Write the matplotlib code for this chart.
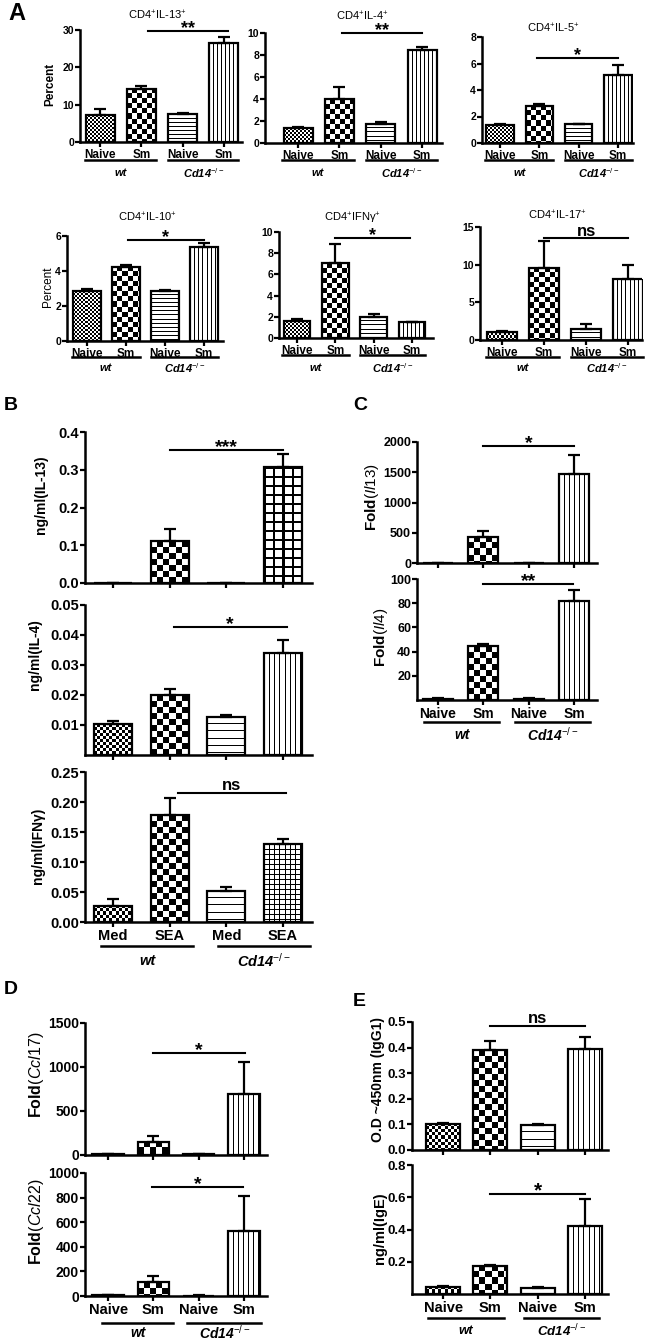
import numpy as np
import matplotlib
matplotlib.use('Agg')
import matplotlib.pyplot as plt
from matplotlib.transforms import blended_transform_factory

# ---------------- data ----------------
groups_A = ['Naive', 'Sm', 'Naive', 'Sm']
groups_B = ['Med', 'SEA', 'Med', 'SEA']
strains = ['wt', r'Cd14$^{-/-}$']

a_il13 = [7.2, 14.2, 7.4, 26.6]
a_il13_err = [1.6, 0.8, 0.5, 1.6]
a_il4 = [1.35, 4.0, 1.75, 8.45]
a_il4_err = [0.15, 1.1, 0.12, 0.3]
a_il5 = [1.35, 2.8, 1.4, 5.15]
a_il5_err = [0.1, 0.12, 0.04, 0.7]
a_il10 = [2.85, 4.25, 2.87, 5.35]
a_il10_err = [0.1, 0.08, 0.07, 0.25]
a_ifng = [1.6, 7.05, 2.0, 1.5]
a_ifng_err = [0.2, 1.8, 0.3, 0.05]
a_il17 = [1.1, 9.6, 1.5, 8.1]
a_il17_err = [0.05, 3.5, 0.6, 1.8]

b_il13 = [0.0, 0.111, 0.0, 0.307]
b_il13_err = [0.0, 0.033, 0.0, 0.034]
b_il4 = [0.0103, 0.0200, 0.0127, 0.0340]
b_il4_err = [0.0010, 0.0020, 0.0007, 0.0043]
b_ifng = [0.027, 0.178, 0.052, 0.130]
b_ifng_err = [0.011, 0.028, 0.007, 0.009]

c_il13 = [5, 430, 5, 1470]
c_il13_err = [0, 95, 0, 310]
c_il4 = [1.0, 44.5, 1.0, 82.0]
c_il4_err = [0.3, 2.0, 0.3, 9.0]

d_ccl17 = [8, 150, 6, 695]
d_ccl17_err = [2, 65, 2, 365]
d_ccl22 = [5, 110, 4, 530]
d_ccl22_err = [1, 52, 1, 280]

e_igg1 = [0.103, 0.390, 0.099, 0.396]
e_igg1_err = [0.002, 0.035, 0.002, 0.045]
e_ige = [0.045, 0.176, 0.040, 0.422]
e_ige_err = [0.003, 0.005, 0.003, 0.165]

# significance annotations: (x_start, x_end, y, label)
sig_a = {'il13': (1.15, 3.1, 29.6, '**'), 'il4': (1.05, 3.0, 10.0, '**'),
         'il5': (0.95, 3.0, 6.4, '*'), 'il10': (1.05, 3.0, 5.77, '*'),
         'ifng': (1.0, 2.95, 9.43, '*'), 'il17': (1.0, 3.0, 13.5, 'ns')}
sig_b = {'il13': (1.0, 3.0, 0.352, '***'), 'il4': (1.07, 3.07, 0.0427, '*'),
         'ifng': (1.15, 3.05, 0.215, 'ns')}
sig_c = {'il13': (1.0, 3.0, 1934, '*'), 'il4': (1.0, 2.98, 96, '**')}
sig_d = {'ccl17': (1.0, 3.02, 1159, '*'), 'ccl22': (0.98, 2.98, 886, '*')}
sig_e = {'igg1': (1.0, 3.0, 0.484, 'ns'), 'ige': (1.0, 3.0, 0.62, '*')}

# ---------------- style ----------------
plt.rcParams['font.family'] = ['Liberation Sans', 'DejaVu Sans']
plt.rcParams['mathtext.fontset'] = 'custom'
plt.rcParams['mathtext.rm'] = 'Liberation Sans'
plt.rcParams['mathtext.it'] = 'Liberation Sans:italic'
plt.rcParams['mathtext.bf'] = 'Liberation Sans:bold'

W, H = 650, 1340
fig = plt.figure(figsize=(W / 100, H / 100), dpi=100)
LW = 1.6


def add_ax(l, t, r, b):
    return fig.add_axes([l / W, 1 - b / H, (r - l) / W, (b - t) / H])


def ftext(x, y, s, **kw):
    fig.text(x / W, 1 - y / H, s, **kw)


def texture(ax, bar, spec):
    if spec is None:
        return
    kind, s, t = spec
    bb = bar.get_window_extent()
    w = int(round(bb.width)); h = int(round(bb.height))
    if w < 2 or h < 2:
        return
    i = np.arange(h)[:, None]
    j = np.arange(w)[None, :]
    if kind == 'check':
        a = ((i // s + j // s) % 2).astype(float)
    elif kind == 'h':
        a = np.broadcast_to((i % s) < t, (h, w)).astype(float)
    elif kind == 'v':
        a = np.broadcast_to((j % s) < t, (h, w)).astype(float)
    elif kind == 'grid':
        a = (((i % s) < t) | ((j % s) < t)).astype(float)
    x0 = bar.get_x(); x1 = x0 + bar.get_width(); y1 = bar.get_height()
    im = ax.imshow(a, extent=(x0, x1, 0, y1), origin='upper', cmap='gray_r',
                   vmin=0, vmax=1, interpolation='nearest', aspect='auto', zorder=2)
    im.set_clip_path(bar)


def panel(box, vals, errs, ylim, yticks, ylabels_txt, styles, xlim, width,
          tick_fs, xlabels=None, xlabel_fs=9, pad=1.5):
    ax = add_ax(*box)
    x = np.arange(len(vals))
    ax.set_xlim(*xlim)
    ax.set_ylim(*ylim)
    bars = ax.bar(x, vals, width=width, facecolor='none', edgecolor='black',
                  linewidth=LW, zorder=3)
    for bar, spec in zip(bars, styles):
        texture(ax, bar, spec)
    ax.errorbar(x, vals, yerr=[np.zeros(len(vals)), errs], fmt='none', ecolor='black',
                elinewidth=LW, capsize=4, capthick=LW, zorder=4)
    ax.set_xlim(*xlim)
    ax.set_ylim(*ylim)
    for sp in ['top', 'right']:
        ax.spines[sp].set_visible(False)
    for sp in ['left', 'bottom']:
        ax.spines[sp].set_linewidth(LW + 0.2)
    ax.set_yticks(yticks)
    ax.set_yticklabels(ylabels_txt, fontsize=tick_fs, fontweight='bold')
    ax.set_xticks(x)
    if xlabels is not None:
        ax.set_xticklabels(xlabels, fontsize=xlabel_fs, fontweight='bold')
    else:
        ax.set_xticklabels([])
    ax.tick_params(direction='out', length=3.5, width=LW, pad=pad)
    ax.tick_params(axis='y', pad=pad * 0.5)
    ax.patch.set_visible(False)
    return ax


def sig(ax, spec, fs, off=-1.5):
    x0, x1, y, lab = spec
    ax.plot([x0, x1], [y, y], color='black', lw=1.5, clip_on=False, zorder=5)
    if lab == 'ns':
        ax.annotate(lab, xy=((x0 + x1) / 2, y), xytext=(0, 2), textcoords='offset points',
                    ha='center', va='baseline', fontsize=fs, fontweight='bold',
                    annotation_clip=False)
    else:
        ax.annotate(lab, xy=((x0 + x1) / 2, y), xytext=(0, off), textcoords='offset points',
                    ha='center', va='baseline', fontsize=fs + 3, fontweight='bold',
                    annotation_clip=False)


def group_labels(ax, y_line, y_text, fs, spans=((-0.38, 1.35), (1.65, 3.35))):
    tr = blended_transform_factory(ax.transData, fig.transFigure)
    for (a, b), lab in zip(spans, strains):
        ax.plot([a, b], [1 - y_line / H] * 2, color='black', lw=1.8, transform=tr,
                clip_on=False)
        ax.text((a + b) / 2, 1 - y_text / H, lab, transform=tr, ha='center', va='center',
                fontsize=fs, fontstyle='italic', fontweight='bold')


def ylab(x, y, s, fs, weight='bold'):
    ftext(x, y, s, rotation=90, ha='center', va='center', fontsize=fs, fontweight=weight)


# styles: (kind, size, thickness)
FINE = ('check', 2, 1)
STY_A = [FINE, ('check', 5, 1), ('h', 4, 1), ('v', 4, 1)]
STY_B1 = [None, ('check', 6, 1), None, ('grid', 9, 2)]
STY_B2 = [('check', 3, 1), ('check', 6, 1), ('h', 7, 1), ('v', 5, 1)]
STY_B3 = [('check', 3, 1), ('check', 6, 1), ('h', 7, 1), ('grid', 5, 1)]
STY_C = [FINE, ('check', 6, 1), ('h', 5, 1), ('v', 5, 1)]
STY_E = [('check', 3, 1), ('check', 6, 1), ('h', 7, 1), ('v', 5, 1)]

# ---------------- Panel A ----------------
ftext(8, 14, 'A', fontsize=17, fontweight='bold', va='center')
tfs, xfs, gfs, titfs, sfs = 7.5, 8.5, 8, 8, 10

ax = panel((80, 30, 242, 142), a_il13, a_il13_err, (0, 30), [0, 10, 20, 30],
           ['0', '10', '20', '30'], STY_A, (-0.49, 3.44), 0.7, tfs, groups_A, xfs)
sig(ax, sig_a['il13'], sfs)
group_labels(ax, 159.5, 173, gfs)
ftext(157, 15, r'CD4$^{+}$IL-13$^{+}$', fontsize=titfs, ha='center', va='center')
ylab(50, 84, 'Percent', 8.5)

ax = panel((265, 33, 442, 143), a_il4, a_il4_err, (0, 10), [0, 2, 4, 6, 8, 10],
           ['0', '2', '4', '6', '8', '10'], STY_A, (-0.8, 3.48), 0.7, tfs, groups_A, xfs)
sig(ax, sig_a['il4'], sfs)
group_labels(ax, 160, 173, gfs)
ftext(362, 16, r'CD4$^{+}$IL-4$^{+}$', fontsize=titfs, ha='center', va='center')

ax = panel((482, 37, 633, 143), a_il5, a_il5_err, (0, 8), [0, 2, 4, 6, 8],
           ['0', '2', '4', '6', '8'], STY_A, (-0.46, 3.38), 0.7, tfs, groups_A, xfs)
sig(ax, sig_a['il5'], sfs)
group_labels(ax, 160, 173, gfs)
ftext(553, 28, r'CD4$^{+}$IL-5$^{+}$', fontsize=titfs, ha='center', va='center')

ax = panel((67, 236, 223, 341), a_il10, a_il10_err, (0, 6), [0, 2, 4, 6],
           ['0', '2', '4', '6'], STY_A, (-0.51, 3.49), 0.7, tfs, groups_A, xfs)
sig(ax, sig_a['il10'], sfs)
group_labels(ax, 357, 368, gfs)
ftext(147, 217, r'CD4$^{+}$IL-10$^{+}$', fontsize=titfs, ha='center', va='center')
ylab(48, 287, 'Percent', 8.5, weight='normal')

ax = panel((279, 232, 433, 338), a_ifng, a_ifng_err, (0, 10), [0, 2, 4, 6, 8, 10],
           ['0', '2', '4', '6', '8', '10'], STY_A, (-0.47, 3.55), 0.7, tfs, groups_A, xfs)
sig(ax, sig_a['ifng'], sfs)
group_labels(ax, 355, 368, gfs)
ftext(352, 218, r'CD4$^{+}$IFNγ$^{+}$', fontsize=titfs, ha='center', va='center')

ax = panel((480, 227, 642, 340), a_il17, a_il17_err, (0, 15), [0, 5, 10, 15],
           ['0', '5', '10', '15'], STY_A, (-0.52, 3.33), 0.7, tfs, groups_A, xfs)
sig(ax, sig_a['il17'], 12)
group_labels(ax, 357, 368, gfs)
ftext(557, 215, r'CD4$^{+}$IL-17$^{+}$', fontsize=titfs, ha='center', va='center')

# ---------------- Panel B ----------------
ftext(4, 405, 'B', fontsize=14, fontweight='bold', va='center')
bxl = (-0.49, 3.51)
ax = panel((85, 432, 312, 583), b_il13, b_il13_err, (0, 0.4), [0, 0.1, 0.2, 0.3, 0.4],
           ['0.0', '0.1', '0.2', '0.3', '0.4'], STY_B1, bxl, 0.67, 10.5)
sig(ax, sig_b['il13'], 11)
ylab(41, 495, 'ng/ml(IL-13)', 10)

ax = panel((85, 605, 312, 755), b_il4, b_il4_err, (0, 0.05), [0.01, 0.02, 0.03, 0.04, 0.05],
           ['0.01', '0.02', '0.03', '0.04', '0.05'], STY_B2, bxl, 0.67, 10.5)
sig(ax, sig_b['il4'], 11)
ylab(35, 655, 'ng/ml(IL-4)', 10)

ax = panel((85, 772, 312, 922), b_ifng, b_ifng_err, (0, 0.25), [0, 0.05, 0.10, 0.15, 0.20, 0.25],
           ['0.00', '0.05', '0.10', '0.15', '0.20', '0.25'], STY_B3, bxl, 0.67, 10.5,
           groups_B, 10.5)
sig(ax, sig_b['ifng'], 12)
ylab(38, 846, 'ng/ml(IFNγ)', 10)
group_labels(ax, 946, 961, 10.5, spans=((-0.2, 1.42), (1.85, 3.47)))

# ---------------- Panel C ----------------
ftext(353, 405, 'C', fontsize=14, fontweight='bold', va='center')
cxl = (-0.46, 3.5)
ax = panel((417, 442, 597, 563), c_il13, c_il13_err, (0, 2000), [0, 500, 1000, 1500, 2000],
           ['0', '500', '1000', '1500', '2000'], STY_C, cxl, 0.66, 9)
sig(ax, sig_c['il13'], 11)
ylab(372, 497, r'Fold$\mathit{(Il13)}$', 11)

ax = panel((417, 579, 597, 700), c_il4, c_il4_err, (0, 100), [20, 40, 60, 80, 100],
           ['20', '40', '60', '80', '100'], STY_C, cxl, 0.66, 9, groups_A, 10)
sig(ax, sig_c['il4'], 11)
ylab(381, 637, r'Fold$\mathit{(Il4)}$', 11)
group_labels(ax, 722, 735, 10, spans=((-0.3, 1.35), (1.7, 3.35)))

# ---------------- Panel D ----------------
ftext(4, 990, 'D', fontsize=14, fontweight='bold', va='center')
dxl = (-0.51, 3.51)
ax = panel((85, 1023, 267, 1155), d_ccl17, d_ccl17_err, (0, 1500), [0, 500, 1000, 1500],
           ['0', '500', '1000', '1500'], STY_C, dxl, 0.7, 10)
sig(ax, sig_d['ccl17'], 11)
ylab(37, 1075, r'Fold$\mathit{(Ccl17)}$', 11.5)

ax = panel((85, 1173, 267, 1296), d_ccl22, d_ccl22_err, (0, 1000), [0, 200, 400, 600, 800, 1000],
           ['0', '200', '400', '600', '800', '1000'], STY_C, dxl, 0.7, 10, groups_A, 10.5)
sig(ax, sig_d['ccl22'], 11)
ylab(37, 1222, r'Fold$\mathit{(Ccl22)}$', 11.5)
group_labels(ax, 1323, 1333, 10, spans=((-0.13, 1.44), (1.75, 3.38)))

# ---------------- Panel E ----------------
ftext(353, 1002, 'E', fontsize=14, fontweight='bold', va='center')
exl = (-0.66, 3.49)
ax = panel((412, 1022, 608, 1150), e_igg1, e_igg1_err, (0, 0.5), [0, 0.1, 0.2, 0.3, 0.4, 0.5],
           ['0.0', '0.1', '0.2', '0.3', '0.4', '0.5'], STY_E, exl, 0.72, 9.5)
sig(ax, sig_e['igg1'], 12)
ylab(378, 1080, 'O.D ~450nm (IgG1)', 10)

ax = panel((412, 1165, 608, 1294), e_ige, e_ige_err, (0, 0.8), [0.2, 0.4, 0.6, 0.8],
           ['0.2', '0.4', '0.6', '0.8'], STY_E, exl, 0.72, 9.5, groups_A, 10.5)
sig(ax, sig_e['ige'], 12)
ylab(380, 1228, 'ng/ml(IgE)', 10.5)
group_labels(ax, 1318, 1331, 9.5, spans=((-0.32, 1.28), (1.72, 3.3)))

fig.savefig('out.png', dpi=100)
